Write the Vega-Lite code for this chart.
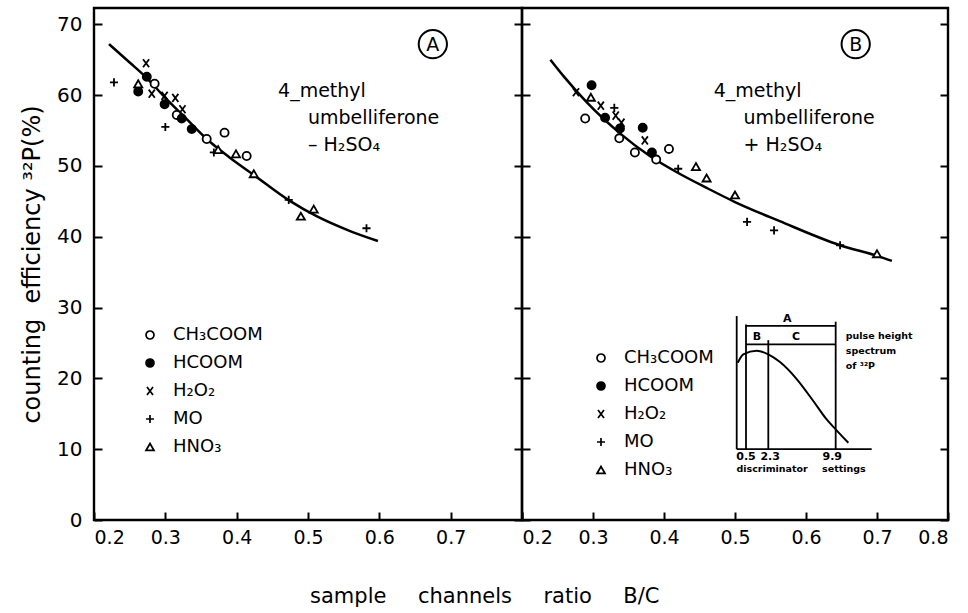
{
  "$schema": "https://vega.github.io/schema/vega-lite/v6.json",
  "background": "white",
  "padding": {"left": 19, "top": 6, "right": 10, "bottom": 5},
  "spacing": 0,
  "bounds": "flush",
  "config": {
    "font": "DejaVu Sans",
    "view": {"stroke": "black", "strokeWidth": 2.4},
    "axis": {"domain": false, "grid": false, "tickColor": "black", "tickWidth": 2, "labelColor": "black", "titleColor": "black", "titleFontWeight": "normal", "labelFont": "DejaVu Sans", "titleFont": "DejaVu Sans"},
    "legend": {"labelFontSize": 18, "labelColor": "black", "labelFont": "DejaVu Sans", "symbolStrokeColor": "black", "symbolStrokeWidth": 1.7, "symbolSize": 64, "rowPadding": 10, "padding": 0, "labelOffset": 14},
    "text": {"color": "black"}
  },
  "title": {"text": "sample\u2003\u2002channels\u2003\u2002ratio\u2003\u2002B/C", "orient": "bottom", "anchor": "middle", "fontSize": 21, "fontWeight": "normal", "font": "DejaVu Sans", "color": "black", "offset": 38},
  "datasets": {
    "pointsA": [
      {"x": 0.285, "y": 61.6, "reagent": "CH₃COOM"}, {"x": 0.316, "y": 57.2, "reagent": "CH₃COOM"}, {"x": 0.358, "y": 53.8, "reagent": "CH₃COOM"}, {"x": 0.383, "y": 54.7, "reagent": "CH₃COOM"}, {"x": 0.414, "y": 51.4, "reagent": "CH₃COOM"},
      {"x": 0.274, "y": 62.6, "reagent": "HCOOM"}, {"x": 0.262, "y": 60.5, "reagent": "HCOOM"}, {"x": 0.299, "y": 58.7, "reagent": "HCOOM"}, {"x": 0.323, "y": 56.7, "reagent": "HCOOM"}, {"x": 0.337, "y": 55.2, "reagent": "HCOOM"},
      {"x": 0.273, "y": 64.5, "reagent": "H₂O₂"}, {"x": 0.281, "y": 60.2, "reagent": "H₂O₂"}, {"x": 0.299, "y": 59.9, "reagent": "H₂O₂"}, {"x": 0.314, "y": 59.6, "reagent": "H₂O₂"}, {"x": 0.324, "y": 58.0, "reagent": "H₂O₂"},
      {"x": 0.228, "y": 61.8, "reagent": "MO"}, {"x": 0.300, "y": 55.5, "reagent": "MO"}, {"x": 0.368, "y": 51.9, "reagent": "MO"}, {"x": 0.473, "y": 45.2, "reagent": "MO"}, {"x": 0.582, "y": 41.2, "reagent": "MO"},
      {"x": 0.262, "y": 61.6, "reagent": "HNO₃"}, {"x": 0.374, "y": 52.3, "reagent": "HNO₃"}, {"x": 0.399, "y": 51.7, "reagent": "HNO₃"}, {"x": 0.424, "y": 48.9, "reagent": "HNO₃"}, {"x": 0.490, "y": 42.9, "reagent": "HNO₃"}, {"x": 0.508, "y": 43.9, "reagent": "HNO₃"}
    ],
    "pointsB": [
      {"x": 0.289, "y": 56.7, "reagent": "CH₃COOM"}, {"x": 0.337, "y": 53.9, "reagent": "CH₃COOM"}, {"x": 0.359, "y": 51.9, "reagent": "CH₃COOM"}, {"x": 0.389, "y": 50.9, "reagent": "CH₃COOM"}, {"x": 0.407, "y": 52.4, "reagent": "CH₃COOM"},
      {"x": 0.298, "y": 61.4, "reagent": "HCOOM"}, {"x": 0.317, "y": 56.8, "reagent": "HCOOM"}, {"x": 0.338, "y": 55.3, "reagent": "HCOOM"}, {"x": 0.370, "y": 55.4, "reagent": "HCOOM"}, {"x": 0.383, "y": 51.9, "reagent": "HCOOM"},
      {"x": 0.276, "y": 60.4, "reagent": "H₂O₂"}, {"x": 0.311, "y": 58.5, "reagent": "H₂O₂"}, {"x": 0.332, "y": 57.1, "reagent": "H₂O₂"}, {"x": 0.340, "y": 56.1, "reagent": "H₂O₂"}, {"x": 0.373, "y": 53.6, "reagent": "H₂O₂"},
      {"x": 0.330, "y": 58.2, "reagent": "MO"}, {"x": 0.420, "y": 49.6, "reagent": "MO"}, {"x": 0.517, "y": 42.1, "reagent": "MO"}, {"x": 0.555, "y": 40.9, "reagent": "MO"}, {"x": 0.648, "y": 38.8, "reagent": "MO"},
      {"x": 0.297, "y": 59.7, "reagent": "HNO₃"}, {"x": 0.445, "y": 49.9, "reagent": "HNO₃"}, {"x": 0.460, "y": 48.3, "reagent": "HNO₃"}, {"x": 0.500, "y": 45.9, "reagent": "HNO₃"}, {"x": 0.700, "y": 37.6, "reagent": "HNO₃"}
    ],
    "curveA": [
      {"x": 0.221, "y": 67.2}, {"x": 0.25, "y": 64.6}, {"x": 0.274, "y": 62.4}, {"x": 0.30, "y": 59.6}, {"x": 0.33, "y": 56.6}, {"x": 0.358, "y": 53.8}, {"x": 0.39, "y": 51.2}, {"x": 0.423, "y": 48.8}, {"x": 0.474, "y": 45.1}, {"x": 0.512, "y": 42.9}, {"x": 0.559, "y": 40.8}, {"x": 0.598, "y": 39.4}
    ],
    "curveB": [
      {"x": 0.240, "y": 65.0}, {"x": 0.26, "y": 62.5}, {"x": 0.291, "y": 59.0}, {"x": 0.338, "y": 54.6}, {"x": 0.380, "y": 51.4}, {"x": 0.42, "y": 49.0}, {"x": 0.46, "y": 46.9}, {"x": 0.50, "y": 44.9}, {"x": 0.563, "y": 42.2}, {"x": 0.648, "y": 38.8}, {"x": 0.700, "y": 37.3}, {"x": 0.721, "y": 36.6}
    ],
    "textA": [
      {"x": 0.458, "y": 60.6, "label": "4_methyl"},
      {"x": 0.500, "y": 56.8, "label": "umbelliferone"},
      {"x": 0.500, "y": 53.0, "label": "– H₂SO₄"}
    ],
    "textB": [
      {"x": 0.470, "y": 60.6, "label": "4_methyl"},
      {"x": 0.512, "y": 56.8, "label": "umbelliferone"},
      {"x": 0.512, "y": 53.0, "label": "+ H₂SO₄"}
    ],
    "circA": [{"x": 0.675, "y": 67.2, "label": "A"}],
    "circB": [{"x": 0.67, "y": 67.2, "label": "B"}],
    "insetRules": [
      {"x": 0.5024, "x2": 0.5024, "y": 10.0, "y2": 28.8},
      {"x": 0.5024, "x2": 0.6925, "y": 10.0, "y2": 10.0},
      {"x": 0.5155, "x2": 0.5155, "y": 10.0, "y2": 27.6},
      {"x": 0.5469, "x2": 0.5469, "y": 10.0, "y2": 25.4},
      {"x": 0.6418, "x2": 0.6418, "y": 10.0, "y2": 28.0},
      {"x": 0.5155, "x2": 0.6418, "y": 27.4, "y2": 27.4},
      {"x": 0.5155, "x2": 0.6418, "y": 24.8, "y2": 24.8}
    ],
    "insetCurve": [
      {"x": 0.5038, "y": 22.2}, {"x": 0.5117, "y": 23.4}, {"x": 0.5306, "y": 23.9}, {"x": 0.5469, "y": 23.4}, {"x": 0.5634, "y": 22.3}, {"x": 0.5869, "y": 19.9}, {"x": 0.6103, "y": 16.8}, {"x": 0.6291, "y": 14.2}, {"x": 0.6418, "y": 12.8}, {"x": 0.6596, "y": 10.9}
    ],
    "insetLabels": [
      {"x": 0.5737, "y": 28.4, "label": "A"},
      {"x": 0.531, "y": 25.8, "label": "B"},
      {"x": 0.586, "y": 25.8, "label": "C"},
      {"x": 0.5155, "y": 8.9, "label": "0.5"},
      {"x": 0.5495, "y": 8.9, "label": "2.3"},
      {"x": 0.637, "y": 8.9, "label": "9.9"}
    ],
    "insetNotes": [
      {"x": 0.502, "y": 7.2, "label": "discriminator\u2003\u2002settings"},
      {"x": 0.656, "y": 26.0, "label": "pulse height"},
      {"x": 0.656, "y": 23.9, "label": "spectrum"},
      {"x": 0.656, "y": 21.8, "label": "of ³²P"}
    ]
  },
  "resolve": {"scale": {"shape": "independent", "fill": "independent", "stroke": "independent"}, "legend": {"shape": "independent", "fill": "independent", "stroke": "independent"}},
  "hconcat": [
    {
      "width": 428, "height": 512,
      "encoding": {
        "x": {"field": "x", "type": "quantitative", "scale": {"domain": [0.2, 0.8], "nice": false, "zero": false},
          "axis": {"title": null, "values": [0.2, 0.3, 0.4, 0.5, 0.6, 0.7, 0.8], "format": ".1f", "labelExpr": "datum.value > 0.75 ? '' : datum.label", "labelFlush": true, "labelFontSize": 19, "labelPadding": 8, "tickSize": 8, "offset": -8}},
        "y": {"field": "y", "type": "quantitative", "scale": {"domain": [0, 72.3], "nice": false, "zero": false},
          "axis": {"title": "counting\u00a0\u00a0efficiency ³²P(%)", "values": [0, 10, 20, 30, 40, 50, 60, 70], "labelFontSize": 20, "labelPadding": 12, "tickSize": 8, "offset": -8, "titleFontSize": 24, "titlePadding": 12}}
      },
      "layer": [
        {"layer": [
          {"data": {"name": "curveA"}, "mark": {"type": "line", "interpolate": "monotone", "color": "black", "strokeWidth": 2.5}},
          {"data": {"name": "pointsA"}, "mark": {"type": "point", "filled": false, "strokeWidth": 1.8, "size": 66, "opacity": 1},
            "encoding": {
              "shape": {"field": "reagent", "type": "nominal", "scale": {"domain": ["CH₃COOM", "HCOOM", "H₂O₂", "MO", "HNO₃"], "range": ["circle", "circle", "M-0.75,-1L0.75,1M-0.75,1L0.75,-1", "M-1,0L1,0M0,-1L0,1", "triangle-up"]},
                "legend": {"title": null, "orient": "none", "legendX": 47, "legendY": 318}},
              "fill": {"field": "reagent", "type": "nominal", "scale": {"domain": ["CH₃COOM", "HCOOM", "H₂O₂", "MO", "HNO₃"], "range": ["white", "black", "transparent", "transparent", "white"]},
                "legend": {"title": null, "orient": "none", "legendX": 47, "legendY": 318}},
              "stroke": {"field": "reagent", "type": "nominal", "scale": {"domain": ["CH₃COOM", "HCOOM", "H₂O₂", "MO", "HNO₃"], "range": ["black", "black", "black", "black", "black"]},
                "legend": {"title": null, "orient": "none", "legendX": 47, "legendY": 318}}
            }},
          {"data": {"name": "textA"}, "mark": {"type": "text", "align": "left", "baseline": "middle", "fontSize": 19}, "encoding": {"text": {"field": "label"}}},
          {"data": {"name": "circA"}, "mark": {"type": "point", "shape": "circle", "size": 800, "filled": false, "stroke": "black", "strokeWidth": 2, "opacity": 1}},
          {"data": {"name": "circA"}, "mark": {"type": "text", "align": "center", "baseline": "middle", "fontSize": 19, "dy": 1}, "encoding": {"text": {"field": "label"}}}
        ]},
        {"data": {"name": "curveA"}, "mark": {"type": "line", "opacity": 0},
          "encoding": {"y": {"field": "y", "type": "quantitative", "scale": {"domain": [0, 72.3], "nice": false, "zero": false},
            "axis": {"orient": "right", "title": null, "labels": false, "values": [0, 10, 20, 30, 40, 50, 60, 70], "tickSize": 8, "offset": -8}}}}
      ],
      "resolve": {"scale": {"y": "independent"}}
    },
    {
      "width": 426, "height": 512,
      "encoding": {
        "x": {"field": "x", "type": "quantitative", "scale": {"domain": [0.2, 0.8], "nice": false, "zero": false},
          "axis": {"title": null, "values": [0.2, 0.3, 0.4, 0.5, 0.6, 0.7, 0.8], "format": ".1f", "labelFlush": true, "labelFontSize": 19, "labelPadding": 8, "tickSize": 8, "offset": -8}},
        "y": {"field": "y", "type": "quantitative", "scale": {"domain": [0, 72.3], "nice": false, "zero": false},
          "axis": {"title": null, "labels": false, "values": [0, 10, 20, 30, 40, 50, 60, 70], "tickSize": 8, "offset": -8}}
      },
      "layer": [
        {"layer": [
          {"data": {"name": "curveB"}, "mark": {"type": "line", "interpolate": "monotone", "color": "black", "strokeWidth": 2.5}},
          {"data": {"name": "pointsB"}, "mark": {"type": "point", "filled": false, "strokeWidth": 1.8, "size": 66, "opacity": 1},
            "encoding": {
              "shape": {"field": "reagent", "type": "nominal", "scale": {"domain": ["CH₃COOM", "HCOOM", "H₂O₂", "MO", "HNO₃"], "range": ["circle", "circle", "M-0.75,-1L0.75,1M-0.75,1L0.75,-1", "M-1,0L1,0M0,-1L0,1", "triangle-up"]},
                "legend": {"title": null, "orient": "none", "legendX": 70, "legendY": 341}},
              "fill": {"field": "reagent", "type": "nominal", "scale": {"domain": ["CH₃COOM", "HCOOM", "H₂O₂", "MO", "HNO₃"], "range": ["white", "black", "transparent", "transparent", "white"]},
                "legend": {"title": null, "orient": "none", "legendX": 70, "legendY": 341}},
              "stroke": {"field": "reagent", "type": "nominal", "scale": {"domain": ["CH₃COOM", "HCOOM", "H₂O₂", "MO", "HNO₃"], "range": ["black", "black", "black", "black", "black"]},
                "legend": {"title": null, "orient": "none", "legendX": 70, "legendY": 341}}
            }},
          {"data": {"name": "textB"}, "mark": {"type": "text", "align": "left", "baseline": "middle", "fontSize": 19}, "encoding": {"text": {"field": "label"}}},
          {"data": {"name": "circB"}, "mark": {"type": "point", "shape": "circle", "size": 800, "filled": false, "stroke": "black", "strokeWidth": 2, "opacity": 1}},
          {"data": {"name": "circB"}, "mark": {"type": "text", "align": "center", "baseline": "middle", "fontSize": 19, "dy": 1}, "encoding": {"text": {"field": "label"}}},
          {"data": {"name": "insetRules"}, "mark": {"type": "rule", "color": "black", "strokeWidth": 1.8}, "encoding": {"x2": {"field": "x2"}, "y2": {"field": "y2"}}},
          {"data": {"name": "insetCurve"}, "mark": {"type": "line", "interpolate": "monotone", "color": "black", "strokeWidth": 2}},
          {"data": {"name": "insetLabels"}, "mark": {"type": "text", "align": "center", "baseline": "middle", "fontSize": 11, "fontWeight": "bold"}, "encoding": {"text": {"field": "label"}}},
          {"data": {"name": "insetNotes"}, "mark": {"type": "text", "align": "left", "baseline": "middle", "fontSize": 9.5, "fontWeight": "bold"}, "encoding": {"text": {"field": "label"}}}
        ]},
        {"data": {"name": "curveB"}, "mark": {"type": "line", "opacity": 0},
          "encoding": {"y": {"field": "y", "type": "quantitative", "scale": {"domain": [0, 72.3], "nice": false, "zero": false},
            "axis": {"orient": "right", "title": null, "labels": false, "values": [0, 10, 20, 30, 40, 50, 60, 70], "tickSize": 8, "offset": -8}}}}
      ],
      "resolve": {"scale": {"y": "independent"}}
    }
  ]
}
